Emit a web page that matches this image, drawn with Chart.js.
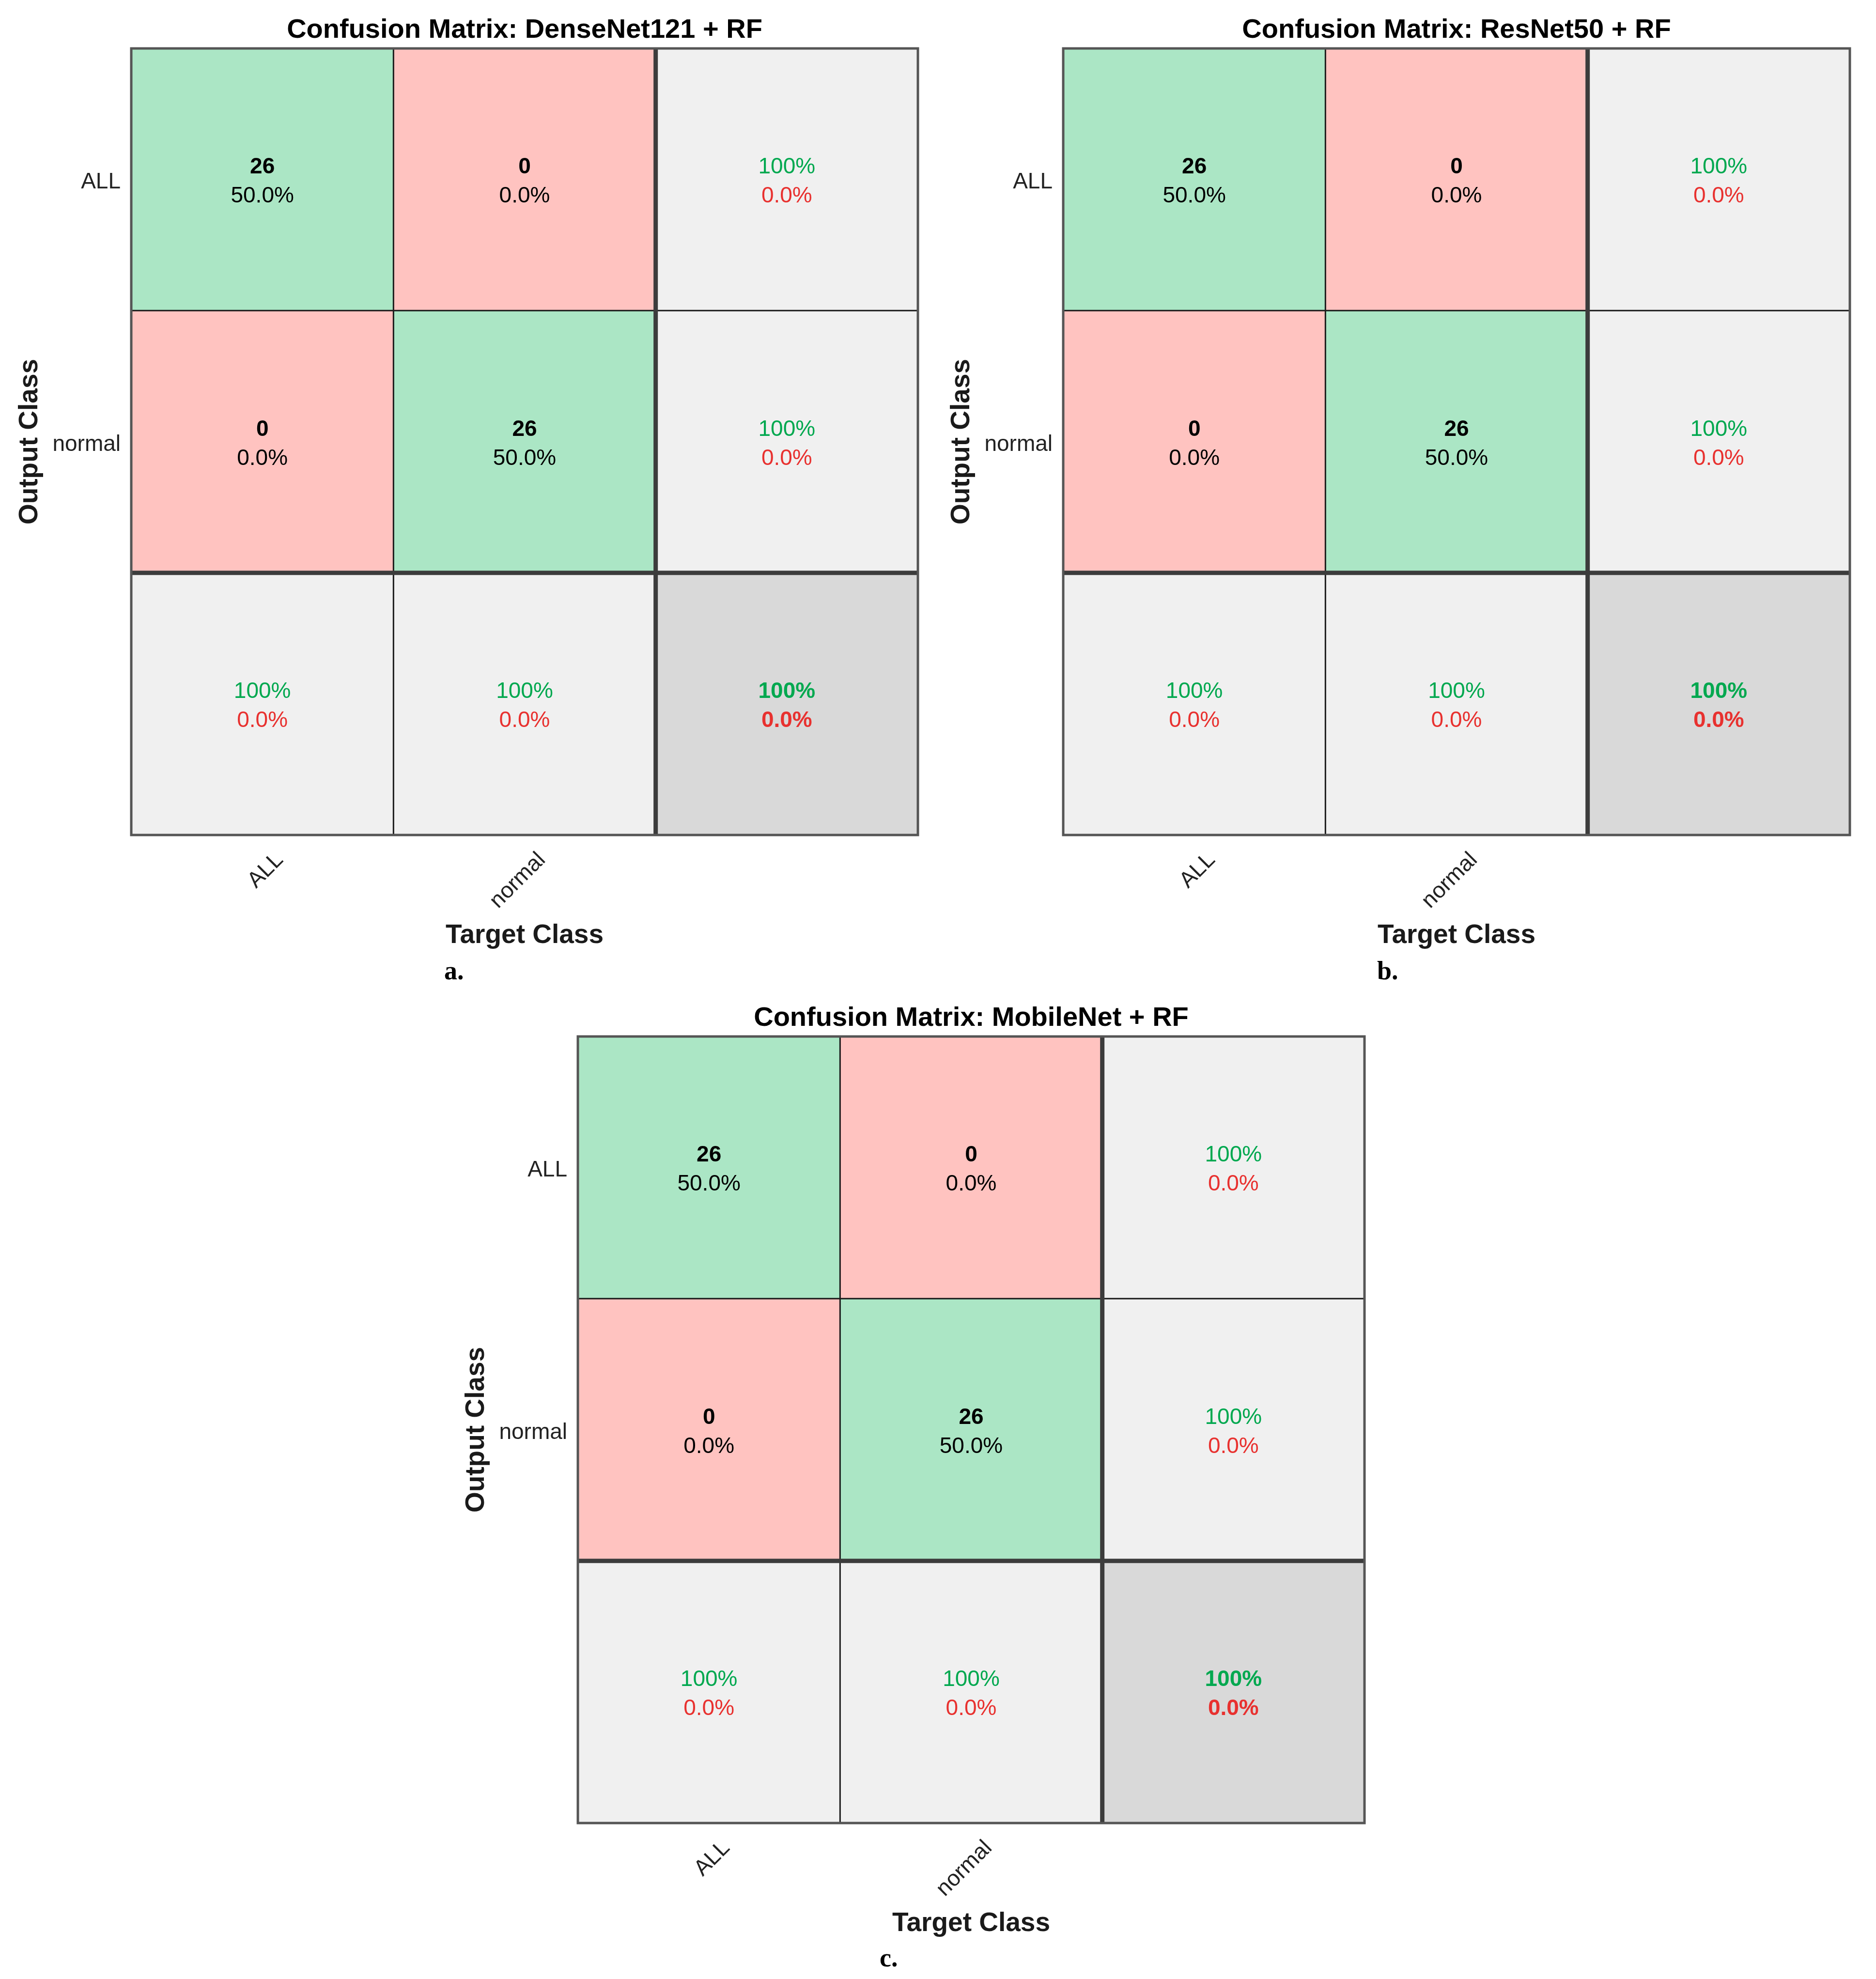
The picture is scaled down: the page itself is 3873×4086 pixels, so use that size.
<!DOCTYPE html>
<html>
<head>
<meta charset="utf-8">
<title>Confusion matrices</title>
<script src="https://cdn.jsdelivr.net/npm/chart.js@4.4.1/dist/chart.umd.min.js"></script>
<style>
  html, body { margin: 0; padding: 0; background: #fff; }
  #page { position: relative; width: 3873px; height: 4086px; background: #fff; overflow: hidden; }
  canvas { position: absolute; }
  .tag { position: absolute; font-family: 'Liberation Serif', 'Times New Roman', serif; font-weight: bold; font-size: 54px; line-height: 1; color: #000; }
</style>
</head>
<body>
<div id="page">
  <canvas id="cmDense" width="1940" height="2000" style="left:0px;top:0px"></canvas>
  <canvas id="cmRes" width="1940" height="2000" style="left:1924px;top:0px"></canvas>
  <canvas id="cmMobile" width="1940" height="2000" style="left:922px;top:2040px"></canvas>
  <div class="tag" style="left:917px;top:1977px">a.</div>
  <div class="tag" style="left:2843px;top:1977px">b.</div>
  <div class="tag" style="left:1816px;top:4015px">c.</div>
</div>
<script>
// rows = output class, columns = target class
const targetClasses = ['ALL', 'normal'];
const outputClasses = ['ALL', 'normal'];

const denseNetRfCounts = [[26, 0], [0, 26]];
const resNetRfCounts = [[26, 0], [0, 26]];
const mobileNetRfCounts = [[26, 0], [0, 26]];

const panelTitles = [
  'Confusion Matrix: DenseNet121 + RF',
  'Confusion Matrix: ResNet50 + RF',
  'Confusion Matrix: MobileNet + RF'
];

const FONT = "'Liberation Sans', Arial, Helvetica, sans-serif";
const GREEN_CELL = '#abe6c5';
const RED_CELL = '#ffc3c0';
const GRAY_CELL = '#f0f0f0';
const DARK_CELL = '#d9d9d9';
const GREEN_TEXT = '#00a84f';
const RED_TEXT = '#e8312f';

Chart.defaults.font.family = FONT;

function pct(v) {
  return v >= 99.95 ? '100%' : v.toFixed(1) + '%';
}

function cellColor(r, c, n) {
  if (r === n && c === n) return DARK_CELL;
  if (r === n || c === n) return GRAY_CELL;
  return r === c ? GREEN_CELL : RED_CELL;
}

function cellLines(counts, r, c) {
  const n = counts.length;
  let total = 0, correct = 0;
  counts.forEach((row, i) => row.forEach((v, j) => { total += v; if (i === j) correct += v; }));

  if (r < n && c < n) {
    return [
      { text: String(counts[r][c]), color: '#000', bold: true },
      { text: pct(100 * counts[r][c] / total), color: '#000', bold: false }
    ];
  }
  let good;
  if (r < n) {
    const rowSum = counts[r].reduce((a, b) => a + b, 0);
    good = rowSum ? 100 * counts[r][r] / rowSum : 0;
  } else if (c < n) {
    const colSum = counts.reduce((a, row) => a + row[c], 0);
    good = colSum ? 100 * counts[c][c] / colSum : 0;
  } else {
    good = 100 * correct / total;
  }
  const bold = r === n && c === n;
  return [
    { text: pct(good), color: GREEN_TEXT, bold: bold },
    { text: pct(100 - good), color: RED_TEXT, bold: bold }
  ];
}

function matrixOverlay(counts) {
  return {
    id: 'matrixOverlay',
    afterDatasetsDraw(chart) {
      const { ctx, chartArea, scales: { x, y } } = chart;
      const n = counts.length;
      const rows = n + 1;
      ctx.save();

      // thin separators inside the matrix
      ctx.strokeStyle = '#1a1a1a';
      ctx.lineWidth = 3;
      ctx.beginPath();
      for (let i = 0; i < n - 1; i++) {
        const px = x.getPixelForValue(i + 0.5);
        ctx.moveTo(px, chartArea.top);
        ctx.lineTo(px, chartArea.bottom);
        const py = y.getPixelForValue(rows - 1 - i);
        ctx.moveTo(chartArea.left, py);
        ctx.lineTo(chartArea.right, py);
      }
      ctx.stroke();

      // thick separators before summary row / column
      ctx.strokeStyle = '#3c3c3c';
      ctx.lineWidth = 9;
      ctx.beginPath();
      const sx = x.getPixelForValue(n - 0.5);
      ctx.moveTo(sx, chartArea.top);
      ctx.lineTo(sx, chartArea.bottom);
      const sy = y.getPixelForValue(1);
      ctx.moveTo(chartArea.left, sy);
      ctx.lineTo(chartArea.right, sy);
      ctx.stroke();

      // outer frame
      ctx.strokeStyle = '#555';
      ctx.lineWidth = 5;
      ctx.strokeRect(chartArea.left, chartArea.top, chartArea.right - chartArea.left, chartArea.bottom - chartArea.top);

      // cell text
      ctx.textAlign = 'center';
      ctx.textBaseline = 'middle';
      for (let r = 0; r < rows; r++) {
        for (let c = 0; c < rows; c++) {
          const cx = x.getPixelForValue(c);
          const cy = y.getPixelForValue(rows - r - 0.5) + 5;
          const lines = cellLines(counts, r, c);
          lines.forEach((ln, k) => {
            ctx.font = (ln.bold ? 'bold ' : '') + '46px ' + FONT;
            ctx.fillStyle = ln.color;
            ctx.fillText(ln.text, cx, cy + (k === 0 ? -30 : 30));
          });
        }
      }
      ctx.restore();
    }
  };
}

function createMatrixChart(canvasId, title, counts) {
  const ctx = document.getElementById(canvasId);
  const n = counts.length;
  const rows = n + 1;
  const columns = [...targetClasses, ''];

  const datasets = [];
  for (let r = 0; r < rows; r++) {
    datasets.push({
      data: columns.map(() => [rows - r - 1, rows - r]),
      backgroundColor: columns.map((_, c) => cellColor(r, c, n)),
      borderWidth: 0,
      barPercentage: 1,
      categoryPercentage: 1,
      grouped: false
    });
  }

  return new Chart(ctx, {
    type: 'bar',
    data: { labels: columns, datasets: datasets },
    options: {
      responsive: false,
      animation: false,
      events: [],
      devicePixelRatio: 1,
      layout: { padding: { left: 0, right: 45, top: 0, bottom: 0 } },
      plugins: {
        legend: { display: false },
        tooltip: { enabled: false },
        title: {
          display: true,
          text: title,
          fullSize: false,
          color: '#000',
          font: { size: 56, weight: 'bold' },
          padding: { top: 29, bottom: 3.8 }
        }
      },
      scales: {
        x: {
          grid: { display: false, drawTicks: false },
          border: { display: false },
          afterFit: (s) => { s.height = 276; },
          ticks: {
            color: '#222',
            font: { size: 46 },
            minRotation: 45,
            maxRotation: 45,
            autoSkip: false,
            padding: 25,
            labelOffset: 36
          },
          title: {
            display: true,
            text: 'Target Class',
            color: '#1a1a1a',
            font: { size: 55, weight: 'bold' },
            padding: { top: 0, bottom: 35 }
          }
        },
        y: {
          min: 0,
          max: rows,
          grid: { display: false, drawTicks: false },
          border: { display: false },
          afterFit: (s) => { s.width = 271; },
          afterBuildTicks: (s) => {
            s.ticks = outputClasses.map((_, r) => ({ value: rows - r - 0.5 }));
          },
          ticks: {
            color: '#222',
            font: { size: 46 },
            autoSkip: false,
            padding: 22,
            labelOffset: 6,
            callback: (v) => outputClasses[Math.floor(rows - v)]
          },
          title: {
            display: true,
            text: 'Output Class',
            color: '#1a1a1a',
            font: { size: 55, weight: 'bold' },
            padding: { top: 29, bottom: 0 }
          }
        }
      }
    },
    plugins: [matrixOverlay(counts)]
  });
}

createMatrixChart('cmDense', panelTitles[0], denseNetRfCounts);
createMatrixChart('cmRes', panelTitles[1], resNetRfCounts);
createMatrixChart('cmMobile', panelTitles[2], mobileNetRfCounts);
</script>
</body>
</html>
